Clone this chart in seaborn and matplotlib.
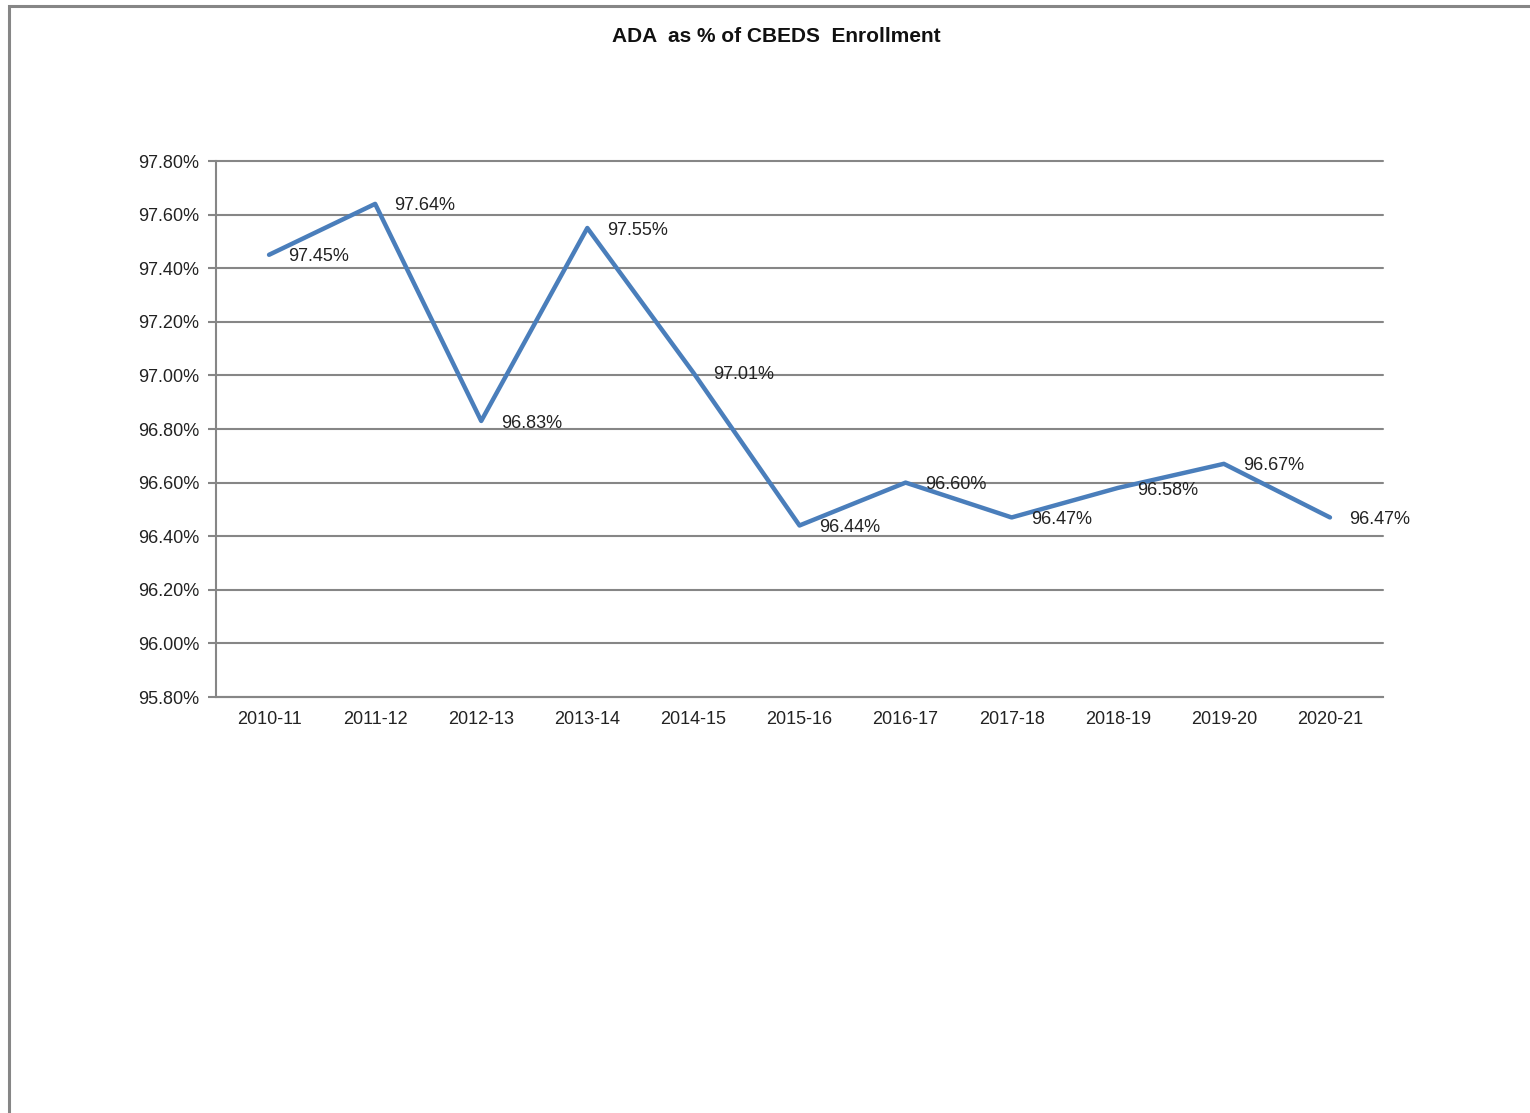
import numpy as np
import pandas as pd
import seaborn as sns
import matplotlib.pyplot as plt
from matplotlib.patches import Rectangle

# Data
years = ["2010-11", "2011-12", "2012-13", "2013-14", "2014-15", "2015-16",
         "2016-17", "2017-18", "2018-19", "2019-20", "2020-21"]
ada_pct = [97.45, 97.64, 96.83, 97.55, 97.01, 96.44, 96.60, 96.47, 96.58, 96.67, 96.47]
y_ticks = [95.80, 96.00, 96.20, 96.40, 96.60, 96.80, 97.00, 97.20, 97.40, 97.60, 97.80]

df = pd.DataFrame({"year": years, "pct": ada_pct})

sns.set_style("white")
plt.rcParams["font.family"] = ["Liberation Sans", "DejaVu Sans"]

grid_col = "#868686"
line_col = "#4A7EBB"
txt_col = "#222222"

fig = plt.figure(figsize=(15.3, 11.13), dpi=100)
ax = fig.add_axes([216 / 1530, 1 - 697 / 1113, (1383 - 216) / 1530, (697 - 161) / 1113])

sns.lineplot(data=df, x="year", y="pct", ax=ax, color=line_col, linewidth=3.2,
             sort=False)

ax.set_xlim(-0.5, len(years) - 0.5)
ax.set_ylim(y_ticks[0], y_ticks[-1])
ax.set_yticks(y_ticks)
ax.set_yticklabels([f"{v:.2f}%" for v in y_ticks], fontsize=13, color=txt_col)
ax.grid(axis="y", color=grid_col, linewidth=1.5)
ax.set_axisbelow(True)
for gl in ax.get_ygridlines():
    gl.set_clip_on(False)

ax.set_xticks(range(len(years)))
ax.set_xticklabels(years, fontsize=13, color=txt_col)
ax.set_xticks(np.arange(-0.5, len(years)), minor=True)
ax.tick_params(axis="x", which="major", length=0, pad=10)
ax.tick_params(axis="x", which="minor", length=6, width=1.5, color=grid_col)
ax.tick_params(axis="y", length=6, width=1.5, color=grid_col, left=True, pad=6)

for s in ["top", "right"]:
    ax.spines[s].set_visible(False)
for s in ["left", "bottom"]:
    ax.spines[s].set_color(grid_col)
    ax.spines[s].set_linewidth(1.5)

ax.set_xlabel("")
ax.set_ylabel("")

# data labels to the right of each point
for i, v in enumerate(ada_pct):
    ax.annotate(f"{v:.2f}%", (i, v), xytext=(14, -1.5), textcoords="offset points",
                ha="left", va="center", fontsize=13, color=txt_col)

fig.text(776 / 1530, 1 - 36 / 1113, "ADA  as % of CBEDS  Enrollment", ha="center",
         va="center", fontsize=15, fontweight="bold", color="#111111")

# chart frame (only left and top edges are visible in the crop)
fig.patches.append(Rectangle((9 / 1530, -0.1), 1.2, 1.1 - 6 / 1113,
                             transform=fig.transFigure, fill=False,
                             edgecolor=grid_col, linewidth=2.2, figure=fig))

fig.savefig("out.png", dpi=100, facecolor="white")
